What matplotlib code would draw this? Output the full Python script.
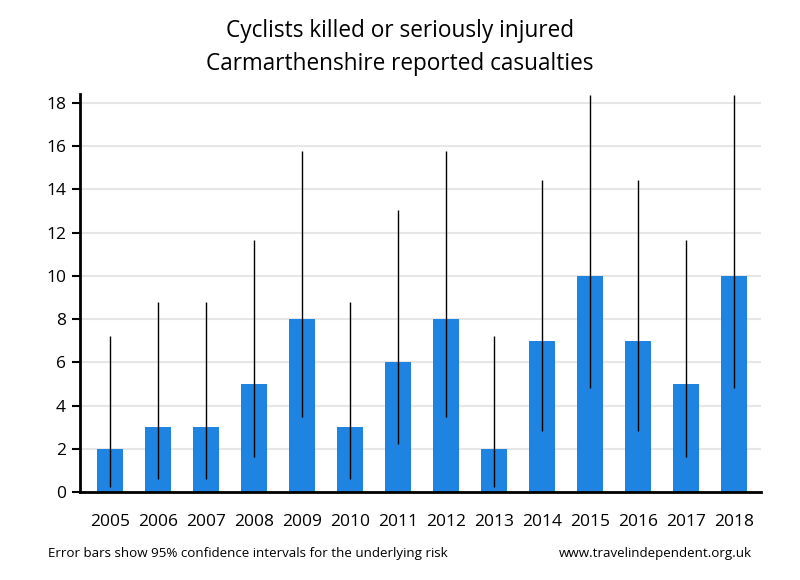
import matplotlib
matplotlib.use("Agg")
import matplotlib.pyplot as plt
import numpy as np

years = ["2005", "2006", "2007", "2008", "2009", "2010", "2011", "2012", "2013",
         "2014", "2015", "2016", "2017", "2018"]
casualties = [2, 3, 3, 5, 8, 3, 6, 8, 2, 7, 10, 7, 5, 10]
ci_low = [0.24, 0.62, 0.62, 1.62, 3.45, 0.62, 2.2, 3.45, 0.24, 2.81, 4.8, 2.81, 1.62, 4.8]
ci_high = [7.22, 8.77, 8.77, 11.67, 15.76, 8.77, 13.06, 15.76, 7.22, 14.42, 18.39, 14.42, 11.67, 18.39]

plt.rcParams['font.family'] = ['Open Sans', 'DejaVu Sans']

fig = plt.figure(figsize=(8, 5.8), dpi=100)
ax = fig.add_axes([0.1, 0.1517, 0.851, 0.6863])

x = np.arange(len(years))
ax.bar(x, casualties, width=0.54, color="#1f83e1", zorder=2)
ax.vlines(x, ci_low, ci_high, color="black", linewidth=1.0, zorder=3)

ax.set_xlim(-0.625, 13.56)
ax.set_ylim(0, 18.42)
ax.set_yticks(range(0, 19, 2))
ax.set_xticks(x)
ax.set_xticklabels(years)
ax.yaxis.grid(True, color="#e6e6e6", linewidth=1.5, zorder=0)
ax.set_axisbelow(True)
for s in ["top", "right"]:
    ax.spines[s].set_visible(False)
ax.spines["left"].set_linewidth(2)
ax.spines["bottom"].set_linewidth(2)
ax.tick_params(axis="y", length=6, width=1.5, labelsize=12.5, pad=4)
ax.tick_params(axis="x", length=0, labelsize=12.5, pad=16)

fig.text(0.5, 0.946, "Cyclists killed or seriously injured", ha="center", va="center", fontsize=16.3)
fig.text(0.5, 0.890, "Carmarthenshire reported casualties", ha="center", va="center", fontsize=16.3)
fig.text(0.06, 0.045, "Error bars show 95% confidence intervals for the underlying risk", ha="left", va="center", fontsize=9.6)
fig.text(0.94, 0.045, "www.travelindependent.org.uk", ha="right", va="center", fontsize=9.6)

fig.savefig("out.png", dpi=100)
